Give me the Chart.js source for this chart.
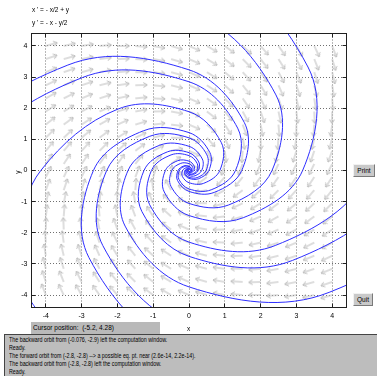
<!DOCTYPE html>
<html>
<head>
<meta charset="utf-8">
<script src="https://cdn.jsdelivr.net/npm/chart.js@4.4.1/dist/chart.umd.min.js"></script>
<style>
  html, body { margin: 0; padding: 0; background: #fff; }
  #wrap { position: relative; width: 377px; height: 376px; overflow: hidden;
          font-family: "Liberation Sans", Arial, sans-serif; color: #000; }
  #plot { position: absolute; left: 0; top: 0; }
  .txt { position: absolute; white-space: nowrap; font-size: 6.5px; line-height: 8px; }
  .btn { position: absolute; box-sizing: border-box; background: #c9c9c9;
         border: 1px solid; border-color: #f2f2f2 #7a7a7a #7a7a7a #f2f2f2;
         font-size: 6.5px; line-height: 11px; text-align: center; }
  #cursor { position: absolute; left: 31px; top: 322px; width: 129px; height: 12px;
            background: #b9b9b9; font-size: 6.5px; line-height: 12px; padding-left: 2px; box-sizing: border-box; white-space: nowrap; }
  #msgs { position: absolute; left: 4px; top: 334px; width: 373px; height: 42px; box-sizing: border-box;
          background: #bdbdbd; border-top: 1px solid #444; border-left: 1px solid #444; }
  #msgs div { position: absolute; left: 4px; top: 1px; font-size: 6.5px; line-height: 7.9px; white-space: nowrap;
              transform: scaleX(0.82); transform-origin: 0 0; }
</style>
</head>
<body>
<div id="wrap">
  <canvas id="plot" width="377" height="376"></canvas>
  <div class="txt" style="left:32px; top:6px;">x ' = - x/2 + y</div>
  <div class="txt" style="left:32px; top:19px;">y ' = - x - y/2</div>
  <div class="txt" style="left:16px; top:168px; transform: rotate(-90deg);">y</div>
  <div class="txt" style="left:187px; top:325px;">x</div>
  <div class="btn" style="left:353px; top:164px; width:22px; height:13px;">Print</div>
  <div class="btn" style="left:353px; top:293px; width:20px; height:13px;">Quit</div>
  <div id="cursor">Cursor position:&nbsp; (-5.2, 4.28)</div>
  <div id="msgs"><div>
    The backward orbit from (-0.076, -2.9) left the computation window.<br>
    Ready.<br>
    The forward orbit from (-2.8, -2.8) --&gt; a possible eq. pt. near (2.6e-14, 2.2e-14).<br>
    The backward orbit from (-2.8, -2.8) left the computation window.<br>
    Ready.
  </div></div>
</div>
<script>
// system shown in the title:  x' = -x/2 + y ,  y' = -x - y/2
var xPrime = [-0.5, 1];
var yPrime = [-1, -0.5];

var xTicks = [-4, -3, -2, -1, 0, 1, 2, 3, 4];
var yTicks = [-4, -3, -2, -1, 0, 1, 2, 3, 4];

// where the field arrows sit (tails)
var fieldCols = [-4, -3.5, -3, -2.5, -2, -1.5, -1, -0.5, 0, 0.5, 1, 1.5, 2, 2.5, 3, 3.5, 4];
var fieldRows = [-4, -3.579, -3.158, -2.737, -2.316, -1.895, -1.474, -1.053, -0.632, -0.211,
                 0.211, 0.632, 1.053, 1.474, 1.895, 2.316, 2.737, 3.158, 3.579, 4];

// orbits, outside the window first, spiralling into (0,0)
var orbit1 = [[-6.543,-6.543],[-6.248,0],[-2.983,2.983],[0,2.849],[1.360,1.360],[1.299,0],[0.620,-0.620],[0,-0.592],[-0.283,-0.283],[-0.270,0],[-0.129,0.129],[0,0.123],[0.059,0.059],[0.056,0],[0.027,-0.027],[0,-0.026]];
var orbit2 = [[-7.425,-7.425],[-7.091,0],[-3.386,3.386],[0,3.233],[1.544,1.544],[1.474,0],[0.704,-0.704],[0,-0.672],[-0.321,-0.321],[-0.306,0],[-0.146,0.146],[0,0.140],[0.067,0.067],[0.064,0],[0.030,-0.030],[0,-0.029]];
var orbit3 = [[-5.326,5.326],[0,5.085],[2.428,2.428],[2.319,0],[1.107,-1.107],[0,-1.057],[-0.505,-0.505],[-0.482,0],[-0.230,0.230],[0,0.220],[0.105,0.105],[0.100,0],[0.048,-0.048],[0,-0.046],[-0.022,-0.022]];
var orbit4 = [[-7.290,7.290],[0,6.962],[3.324,3.324],[3.174,0],[1.516,-1.516],[0,-1.447],[-0.691,-0.691],[-0.660,0],[-0.315,0.315],[0,0.301],[0.144,0.144],[0.137,0],[0.065,-0.065],[0,-0.063],[-0.030,-0.030],[-0.029,0]];
var orbit5 = [[5.284,5.284],[5.046,0],[2.409,-2.409],[0,-2.301],[-1.099,-1.099],[-1.049,0],[-0.501,0.501],[0,0.478],[0.228,0.228],[0.218,0],[0.104,-0.104],[0,-0.099],[-0.047,-0.047],[-0.045,0],[-0.022,0.022]];
var orbit6 = [[6.336,6.336],[6.050,0],[2.889,-2.889],[0,-2.758],[-1.317,-1.317],[-1.258,0],[-0.600,0.600],[0,0.573],[0.274,0.274],[0.261,0],[0.125,-0.125],[0,-0.119],[-0.057,-0.057],[-0.054,0],[-0.026,0.026]];
var orbit7 = [[8.585,8.585],[8.198,0],[3.914,-3.914],[0,-3.738],[-1.785,-1.785],[-1.704,0],[-0.814,0.814],[0,0.777],[0.371,0.371],[0.354,0],[0.169,-0.169],[0,-0.162],[-0.077,-0.077],[-0.074,0],[-0.035,0.035],[0,0.034]];
var orbit8 = [[5.284,-5.284],[0,-5.045],[-2.409,-2.409],[-2.300,0],[-1.098,1.098],[0,1.049],[0.501,0.501],[0.478,0],[0.228,-0.228],[0,-0.218],[-0.104,-0.104],[-0.099,0],[-0.047,0.047],[0,0.045],[0.022,0.022]];
var orbit9 = [[6.132,-6.132],[0,-5.856],[-2.796,-2.796],[-2.670,0],[-1.275,1.275],[0,1.217],[0.581,0.581],[0.555,0],[0.265,-0.265],[0,-0.253],[-0.121,-0.121],[-0.115,0],[-0.055,0.055],[0,0.053],[0.025,0.025]];
var orbit10 = [[9.510,-9.510],[0,-9.081],[-4.336,-4.336],[-4.655,-1.928],[-4.140,0],[-1.977,1.977],[0,1.888],[0.901,0.901],[0.861,0],[0.411,-0.411],[0,-0.392],[-0.187,-0.187],[-0.179,0],[-0.085,0.085],[0,0.082],[0.039,0.039],[0.037,0]];

var orbits = [orbit1, orbit2, orbit3, orbit4, orbit5, orbit6, orbit7, orbit8, orbit9, orbit10];

// arrow glyph, tail in the middle of the little canvas
function makeArrow() {
    var len = 12;
    var c = document.createElement('canvas');
    c.width = 2 * len + 4;
    c.height = 2 * len + 4;
    var g = c.getContext('2d');
    var cx = c.width / 2, cy = c.height / 2;
    g.strokeStyle = '#bcbcbc';
    g.lineWidth = 1;
    g.beginPath();
    g.moveTo(cx, cy);
    g.lineTo(cx + len, cy);
    g.moveTo(cx + len - 4, cy - 2.5);
    g.lineTo(cx + len, cy);
    g.lineTo(cx + len - 4, cy + 2.5);
    g.stroke();
    return c;
}
var arrowImg = makeArrow();

var fieldPoints = [];
fieldRows.forEach(function (y) {
    fieldCols.forEach(function (x) {
        fieldPoints.push({
            x: x, y: y,
            u: xPrime[0] * x + xPrime[1] * y,
            v: yPrime[0] * x + yPrime[1] * y
        });
    });
});

var datasets = orbits.map(function (o) {
    return {
        data: o.map(function (p) { return {x: p[0], y: p[1]}; }),
        showLine: true,
        borderColor: 'rgb(45, 45, 255)',
        borderWidth: 1,
        pointRadius: 0,
        tension: 0.37,
        order: 0
    };
});
datasets.push({
    data: fieldPoints,
    showLine: false,
    pointStyle: arrowImg,
    pointRadius: 1,
    rotation: function (ctx) {
        var p = ctx.raw;
        if (!p) return 0;
        var sx = ctx.chart.scales.x, sy = ctx.chart.scales.y;
        var dx = sx.getPixelForValue(p.x + p.u) - sx.getPixelForValue(p.x);
        var dy = sy.getPixelForValue(p.y + p.v) - sy.getPixelForValue(p.y);
        return Math.atan2(dy, dx) * 180 / Math.PI;
    },
    order: 1
});

function snap(px) { return Math.round(px - 0.5) + 0.5; }

// box round the plot with short ticks pointing inward
var framePlugin = {
    id: 'frame',
    afterDatasetsDraw: function (chart) {
        var ctx = chart.ctx, a = chart.chartArea;
        var sx = chart.scales.x, sy = chart.scales.y;
        ctx.save();
        ctx.strokeStyle = '#202020';
        ctx.lineWidth = 1;
        ctx.strokeRect(a.left, a.top, a.right - a.left, a.bottom - a.top);
        ctx.beginPath();
        xTicks.forEach(function (v) {
            var px = snap(sx.getPixelForValue(v));
            ctx.moveTo(px, a.bottom); ctx.lineTo(px, a.bottom - 4);
            ctx.moveTo(px, a.top); ctx.lineTo(px, a.top + 4);
        });
        yTicks.forEach(function (v) {
            var py = snap(sy.getPixelForValue(v));
            ctx.moveTo(a.left, py); ctx.lineTo(a.left + 4, py);
            ctx.moveTo(a.right, py); ctx.lineTo(a.right - 4, py);
        });
        ctx.stroke();
        ctx.restore();
    }
};

var tickFont = {family: 'Liberation Sans', size: 7};

var ctxPlot = document.getElementById('plot').getContext('2d');
window.phaseChart = new Chart(ctxPlot, {
    type: 'scatter',
    data: {datasets: datasets},
    options: {
        responsive: false,
        animation: false,
        events: [],
        layout: {padding: {left: 0, right: 30.5, top: 33.5, bottom: 48.5}},
        elements: {line: {capBezierPoints: false}},
        plugins: {legend: {display: false}, tooltip: {enabled: false}},
        scales: {
            x: {
                type: 'linear', min: -4.4, max: 4.4,
                afterBuildTicks: function (s) { s.ticks = xTicks.map(function (v) { return {value: v}; }); },
                afterFit: function (s) { s.height = 20; },
                ticks: {font: tickFont, color: '#000', padding: 4, maxRotation: 0, autoSkip: false},
                grid: {color: '#707070', lineWidth: 1, drawTicks: false},
                border: {display: false, dash: [1, 2]}
            },
            y: {
                type: 'linear', min: -4.4, max: 4.4,
                afterBuildTicks: function (s) { s.ticks = yTicks.map(function (v) { return {value: v}; }); },
                afterFit: function (s) { s.width = 31.5; },
                ticks: {font: tickFont, color: '#000', padding: 4, autoSkip: false},
                grid: {color: '#707070', lineWidth: 1, drawTicks: false},
                border: {display: false, dash: [1, 2]}
            }
        }
    },
    plugins: [framePlugin]
});
</script>
</body>
</html>
